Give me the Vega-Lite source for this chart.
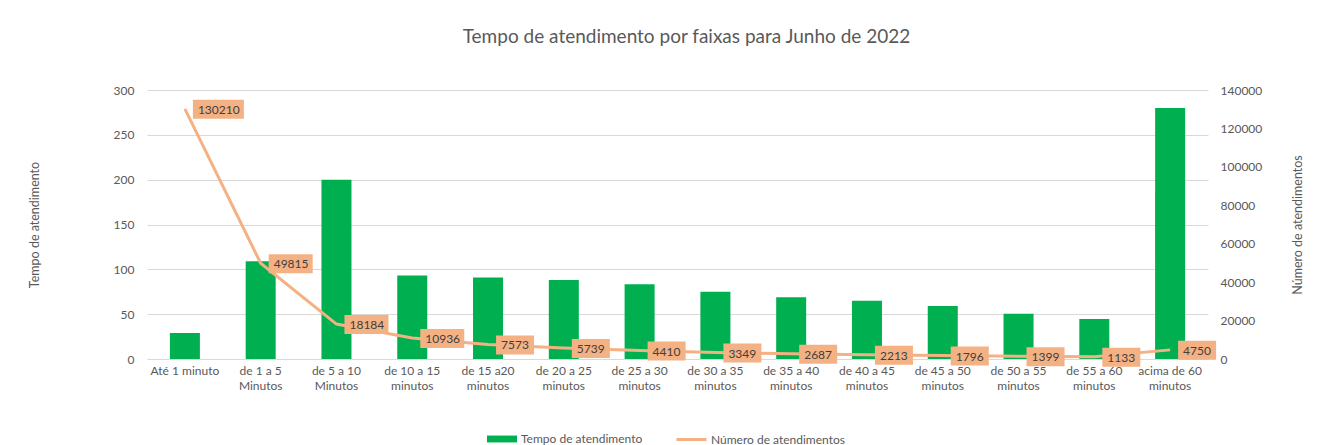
{
  "$schema": "https://vega.github.io/schema/vega-lite/v6.json",
  "width": 1061,
  "height": 269,
  "autosize": "none",
  "padding": {"left": 147, "top": 90, "right": 125, "bottom": 86},
  "background": "white",
  "title": {"text": "Tempo de atendimento por faixas para Junho de 2022", "font": "Lato", "fontSize": 19, "fontWeight": "normal", "color": "#595959", "offset": 37, "dx": 9},
  "config": {
    "font": "Lato",
    "view": {"stroke": null},
    "axis": {"labelFont": "Lato", "labelFontSize": 12, "labelColor": "#595959", "titleFont": "Lato", "titleFontSize": 12.5, "titleFontWeight": "normal", "titleColor": "#595959", "domain": false, "ticks": false, "gridColor": "#D9D9D9", "gridWidth": 1, "labelOverlap": false},
    "legend": {"labelFont": "Lato", "labelFontSize": 12, "labelColor": "#595959", "orient": "none", "direction": "horizontal", "title": null}
  },
  "data": {"values": [
    {"faixa": "Até 1 minuto", "tempo": 29, "numero": 130210},
    {"faixa": "de 1 a 5 Minutos", "tempo": 109, "numero": 49815},
    {"faixa": "de 5 a 10 Minutos", "tempo": 200, "numero": 18184},
    {"faixa": "de 10 a 15 minutos", "tempo": 93, "numero": 10936},
    {"faixa": "de 15 a20 minutos", "tempo": 91, "numero": 7573},
    {"faixa": "de 20 a 25 minutos", "tempo": 88, "numero": 5739},
    {"faixa": "de 25 a 30 minutos", "tempo": 83.5, "numero": 4410},
    {"faixa": "de 30 a 35 minutos", "tempo": 75, "numero": 3349},
    {"faixa": "de 35 a 40 minutos", "tempo": 69, "numero": 2687},
    {"faixa": "de 40 a 45 minutos", "tempo": 65, "numero": 2213},
    {"faixa": "de 45 a 50 minutos", "tempo": 59, "numero": 1796},
    {"faixa": "de 50 a 55 minutos", "tempo": 50.5, "numero": 1399},
    {"faixa": "de 55 a 60 minutos", "tempo": 44.5, "numero": 1133},
    {"faixa": "acima de 60 minutos", "tempo": 280, "numero": 4750}
  ]},
  "encoding": {
    "x": {"field": "faixa", "type": "nominal", "sort": null,
      "scale": {"paddingInner": 0.604, "paddingOuter": 0.302},
      "axis": {"title": null, "labelAngle": 0, "labelPadding": 6, "grid": false, "labelLineHeight": 15,
        "labelExpr": "test(/inutos$/, datum.label) ? [slice(datum.label, 0, lastindexof(datum.label, ' ')), slice(datum.label, lastindexof(datum.label, ' ') + 1)] : datum.label"}}
  },
  "layer": [
    {
      "mark": {"type": "bar"},
      "encoding": {
        "y": {"field": "tempo", "type": "quantitative", "scale": {"domain": [0, 300], "nice": false},
          "axis": {"title": "Tempo de atendimento", "values": [0, 50, 100, 150, 200, 250, 300], "labelPadding": 13, "titlePadding": 72, "labelOverlap": false}},
        "fill": {"datum": "Tempo de atendimento", "type": "nominal", "scale": {"range": ["#00B050"]},
          "legend": {"symbolType": "M-1,-0.23H1V0.23H-1Z", "symbolSize": 900, "labelOffset": 3, "legendX": 339, "legendY": 333}}
      }
    },
    {
      "encoding": {
        "y": {"field": "numero", "type": "quantitative", "scale": {"domain": [0, 140000], "nice": false},
          "axis": {"orient": "right", "title": "Número de atendimentos", "format": "d", "values": [0, 20000, 40000, 60000, 80000, 100000, 120000, 140000], "grid": false, "labelPadding": 12, "titlePadding": 43, "titleAngle": 270, "labelOverlap": false, "labelFlush": false}}
      },
      "layer": [
        {
          "mark": {"type": "line", "strokeWidth": 3},
          "encoding": {
            "stroke": {"datum": "Número de atendimentos", "type": "nominal", "scale": {"range": ["#F4B183"]},
              "legend": {"symbolType": "stroke", "symbolSize": 900, "symbolStrokeWidth": 3, "labelOffset": 3, "legendX": 528, "legendY": 333}}
          }
        },
        {
          "mark": {"type": "point", "filled": true, "opacity": 1, "size": 400, "color": "#F4B183", "strokeWidth": 0},
          "encoding": {
            "shape": {
              "condition": [
                {"test": "datum.numero >= 100000", "value": "M0.8,-0.9H5.9V1H0.8Z"},
                {"test": "datum.numero >= 10000", "value": "M0.8,-0.9H5.2V1H0.8Z"}
              ],
              "value": "M0.8,-0.9H4.6V1H0.8Z"
            }
          }
        },
        {
          "mark": {"type": "text", "align": "left", "baseline": "middle", "dx": 13, "dy": 1, "font": "Lato", "fontSize": 12, "color": "#404040"},
          "encoding": {
            "text": {"field": "numero", "type": "quantitative", "format": "d"}
          }
        }
      ]
    }
  ],
  "resolve": {"scale": {"y": "independent"}}
}
